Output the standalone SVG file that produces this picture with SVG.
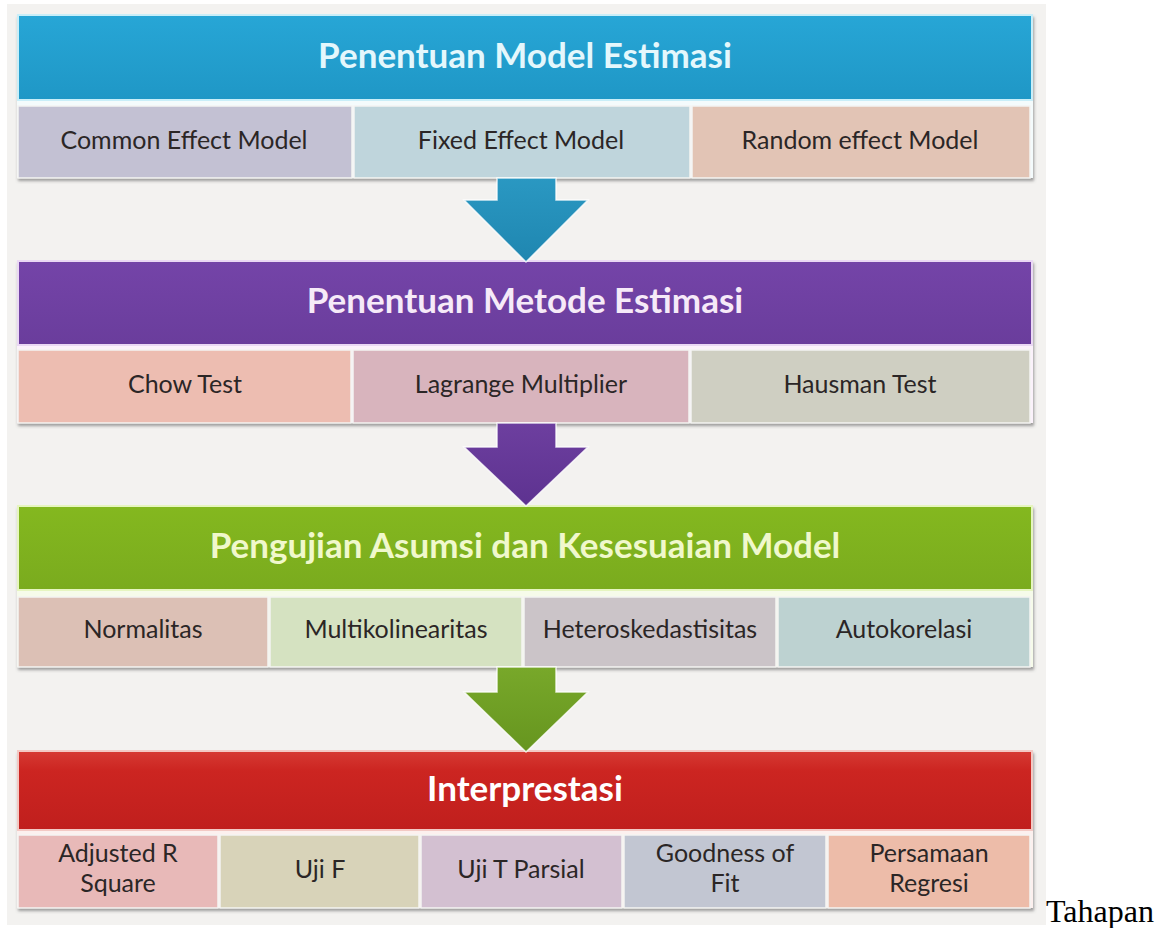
<svg xmlns="http://www.w3.org/2000/svg" width="1159" height="928" viewBox="0 0 1159 928">
<defs>
<linearGradient id="gBlue" x1="0" y1="0" x2="0" y2="1"><stop offset="0" stop-color="#27a6d6"/><stop offset="1" stop-color="#1f97c6"/></linearGradient>
<linearGradient id="gPurple" x1="0" y1="0" x2="0" y2="1"><stop offset="0" stop-color="#7444a8"/><stop offset="1" stop-color="#6a3d9c"/></linearGradient>
<linearGradient id="gGreen" x1="0" y1="0" x2="0" y2="1"><stop offset="0" stop-color="#84b81f"/><stop offset="1" stop-color="#7aab1e"/></linearGradient>
<linearGradient id="gRed" x1="0" y1="0" x2="0" y2="1"><stop offset="0" stop-color="#d63a33"/><stop offset="0.25" stop-color="#cc2521"/><stop offset="1" stop-color="#c01f1d"/></linearGradient>
<linearGradient id="aBlue" x1="0" y1="0" x2="0" y2="1"><stop offset="0" stop-color="#2a98c2"/><stop offset="1" stop-color="#1f86b0"/></linearGradient>
<linearGradient id="aPurple" x1="0" y1="0" x2="0" y2="1"><stop offset="0" stop-color="#6d3f9f"/><stop offset="1" stop-color="#5d3290"/></linearGradient>
<linearGradient id="aGreen" x1="0" y1="0" x2="0" y2="1"><stop offset="0" stop-color="#78a82a"/><stop offset="1" stop-color="#66951f"/></linearGradient>
<filter id="sh" x="-2%" y="-10%" width="104%" height="130%"><feDropShadow dx="1" dy="3" stdDeviation="1.5" flood-color="#555" flood-opacity="0.55"/></filter>
</defs>
<style>
.hd{font-family:Lato,"Open Sans","Liberation Sans",sans-serif;font-weight:bold;font-size:35px;text-anchor:middle}
.ct{font-family:Lato,"Open Sans","Liberation Sans",sans-serif;font-size:25px;fill:#2b2626;text-anchor:middle}
.cell{stroke:#f4f4f2;stroke-width:1.5}
.arrow{stroke:#ffffff;stroke-width:1.5;stroke-opacity:0.8}
</style>
<rect x="7" y="4" width="1039" height="921" fill="#f3f2f0"/>

<g id="panel-model">
<rect x="17" y="14" width="1016" height="164" fill="#f4fbfc" filter="url(#sh)"/>
<rect x="18" y="15" width="1014" height="85" fill="url(#gBlue)" stroke="#c9eef8" stroke-width="2"/>
<rect class="cell" x="18" y="106" width="334" height="72" fill="#c3c1d3"/>
<rect class="cell" x="354" y="106" width="336" height="72" fill="#bfd5dc"/>
<rect class="cell" x="692" y="106" width="338" height="72" fill="#e2c4b5"/>
<text class="hd" x="525" y="68" fill="#e4f7fc">Penentuan Model Estimasi</text>
<text class="ct" x="184" y="149">Common Effect Model</text>
<text class="ct" x="521" y="149">Fixed Effect Model</text>
<text class="ct" x="860" y="149">Random effect Model</text>
</g>

<g id="panel-metode">
<rect x="17" y="260" width="1016" height="163" fill="#fbf2fb" filter="url(#sh)"/>
<rect x="18" y="261" width="1014" height="84" fill="url(#gPurple)" stroke="#ead8f4" stroke-width="2"/>
<rect class="cell" x="18" y="350" width="333" height="73" fill="#edbdb1"/>
<rect class="cell" x="353" y="350" width="336" height="73" fill="#d8b4bd"/>
<rect class="cell" x="691" y="350" width="339" height="73" fill="#cfcfc2"/>
<text class="hd" x="525" y="313" fill="#f6eaf8">Penentuan Metode Estimasi</text>
<text class="ct" x="185" y="393">Chow Test</text>
<text class="ct" x="521" y="393">Lagrange Multiplier</text>
<text class="ct" x="860" y="393">Hausman Test</text>
</g>

<g id="panel-asumsi">
<rect x="17" y="505" width="1016" height="162" fill="#f6fbea" filter="url(#sh)"/>
<rect x="18" y="506" width="1014" height="84" fill="url(#gGreen)" stroke="#e6f5c0" stroke-width="2"/>
<rect class="cell" x="18" y="597" width="250" height="70" fill="#dcc0b5"/>
<rect class="cell" x="270" y="597" width="252" height="70" fill="#d5e2c1"/>
<rect class="cell" x="524" y="597" width="252" height="70" fill="#cbc4c8"/>
<rect class="cell" x="778" y="597" width="252" height="70" fill="#bdd2d1"/>
<text class="hd" x="525" y="558" fill="#f0f8cc">Pengujian Asumsi dan Kesesuaian Model</text>
<text class="ct" x="143" y="638">Normalitas</text>
<text class="ct" x="396" y="638">Multikolinearitas</text>
<text class="ct" x="650" y="638">Heteroskedastisitas</text>
<text class="ct" x="904" y="638">Autokorelasi</text>
</g>

<g id="panel-interprestasi">
<rect x="17" y="750" width="1016" height="158" fill="#fcf0ee" filter="url(#sh)"/>
<rect x="18" y="751" width="1014" height="79" fill="url(#gRed)" stroke="#f3c9c4" stroke-width="2"/>
<rect class="cell" x="18" y="835" width="200" height="73" fill="#e8b9b8"/>
<rect class="cell" x="220" y="835" width="199" height="73" fill="#d8d3b9"/>
<rect class="cell" x="421" y="835" width="201" height="73" fill="#d3c0d1"/>
<rect class="cell" x="624" y="835" width="202" height="73" fill="#c2c6d2"/>
<rect class="cell" x="828" y="835" width="202" height="73" fill="#edbca9"/>
<text class="hd" x="525" y="801" fill="#ffffff">Interprestasi</text>
<text class="ct" x="118" y="862">Adjusted R</text>
<text class="ct" x="118" y="892">Square</text>
<text class="ct" x="320" y="878">Uji F</text>
<text class="ct" x="521" y="878">Uji T Parsial</text>
<text class="ct" x="725" y="862">Goodness of</text>
<text class="ct" x="725" y="892">Fit</text>
<text class="ct" x="929" y="862">Persamaan</text>
<text class="ct" x="929" y="892">Regresi</text>
</g>

<g id="connectors">
<polygon class="arrow" points="497,178 556,178 556,200 588,200 526,262 464,200 497,200" fill="url(#aBlue)"/>
<polygon class="arrow" points="497,423 556,423 556,447 588,447 526,506 464,447 497,447" fill="url(#aPurple)"/>
<polygon class="arrow" points="497,667 556,667 556,692 588,692 526,752 464,692 497,692" fill="url(#aGreen)"/>
</g>

<text x="1046" y="922" font-family="'Liberation Serif',serif" font-size="32" fill="#000">Tahapan</text>
</svg>
